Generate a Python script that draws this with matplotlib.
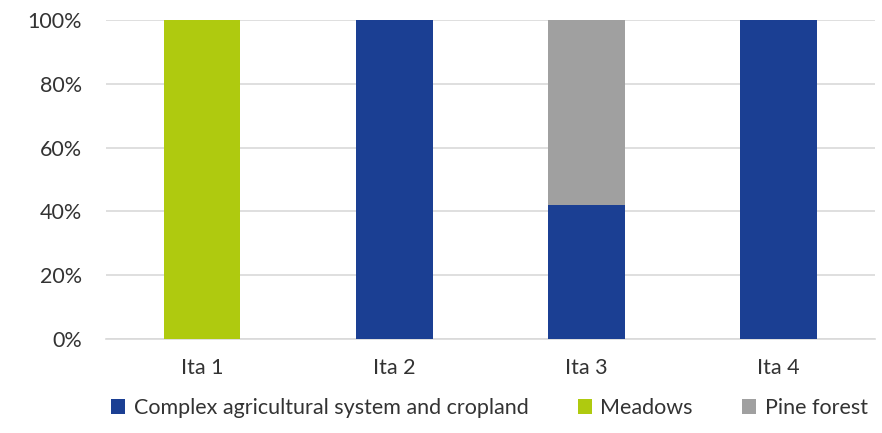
import matplotlib.pyplot as plt
import numpy as np
from matplotlib.ticker import PercentFormatter

plt.rcParams['font.family'] = ['Lato', 'DejaVu Sans']

sites = ['Ita 1', 'Ita 2', 'Ita 3', 'Ita 4']
cropland = [0, 100, 42, 100]
meadows = [100, 0, 0, 0]
pine = [0, 0, 58, 0]

labels = ['Complex agricultural system and cropland', 'Meadows', 'Pine forest']
colors = ['#1b3f93', '#afca0f', '#a0a0a0']

fig = plt.figure(figsize=(8.82, 4.33), dpi=100)
ax = fig.add_axes([0.12, 0.217, 0.872, 0.737])

x = np.arange(len(sites))
bottom = np.zeros(len(sites))
for vals, lab, col in zip([cropland, meadows, pine], labels, colors):
    ax.bar(x, vals, 0.4, bottom=bottom, color=col, label=lab, zorder=3)
    bottom += np.array(vals)

ax.set_xlim(-0.5, len(sites) - 0.5)
ax.set_ylim(0, 100)
ax.set_yticks(np.arange(0, 101, 20))
ax.yaxis.set_major_formatter(PercentFormatter(decimals=0))
ax.set_xticks(x)
ax.set_xticklabels(sites)
ax.grid(axis='y', color='#d9d9d9', linewidth=1.2, zorder=0)
ax.tick_params(length=0, labelsize=15.5, colors='#333333')
ax.tick_params(axis='y', pad=17)
ax.tick_params(axis='x', pad=14)
for s in ['top', 'right', 'left']:
    ax.spines[s].set_visible(False)
ax.spines['bottom'].set_color('#d9d9d9')
ax.spines['bottom'].set_linewidth(1.2)

fig.legend(loc='lower center', bbox_to_anchor=(0.555, -0.01), ncol=3, frameon=False,
           fontsize=15.5, handlelength=0.65, handleheight=0.65, handletextpad=0.4,
           columnspacing=2.3, labelcolor='#333333')

fig.savefig('out.png', dpi=100)
